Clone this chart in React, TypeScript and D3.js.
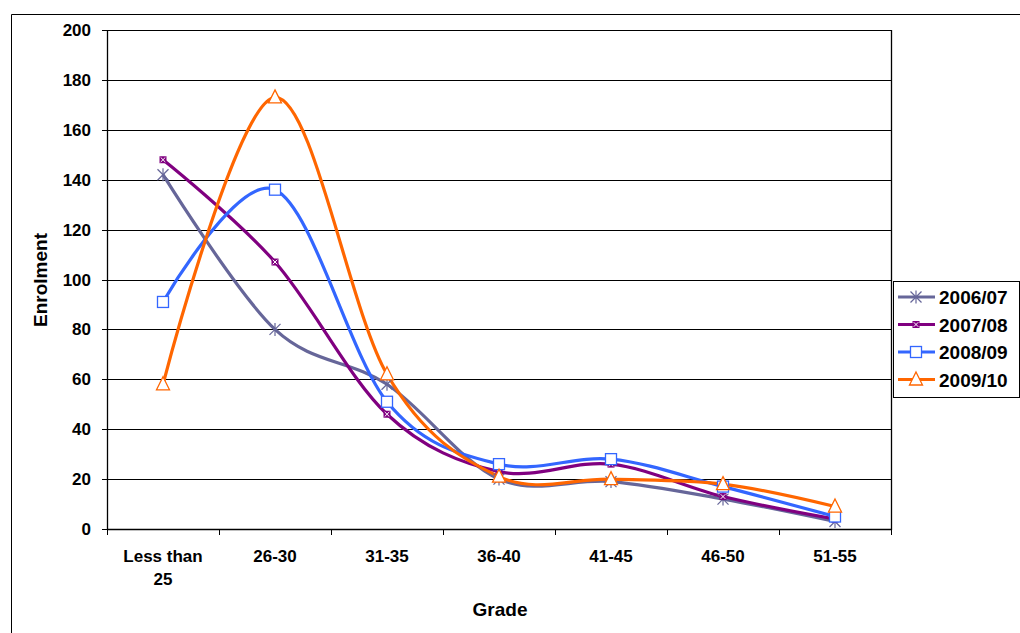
import React from "react";
import * as d3 from "d3";

const categories = ["Less than 25", "26-30", "31-35", "36-40", "41-45", "46-50", "51-55"];
const seriesNames = ["2006/07", "2007/08", "2008/09", "2009/10"];
const s0607 = [142, 80, 58, 20, 19, 12, 3];
const s0708 = [148, 107, 46, 23, 26, 13, 4];
const s0809 = [91, 136, 51, 26, 28, 17, 5];
const s0910 = [58, 173, 62, 21, 20, 18, 9];
const yTicks = [0, 20, 40, 60, 80, 100, 120, 140, 160, 180, 200];
const colors = ["#666699", "#800080", "#3366FF", "#FF6600"];
const markerKinds = ["star", "xsquare", "square", "triangle"];

const W = 1020;
const H = 633;
const plot = { left: 107, right: 891, top: 30, bottom: 529 };
const FONT = "'Liberation Sans', Arial, sans-serif";

function Marker({ kind, x, y, color }: { kind: string; x: number; y: number; color: string }) {
  if (kind === "star") {
    const r = 5.5;
    return (
      <g stroke={color} strokeWidth={1.2} fill="none">
        <line x1={x - r} y1={y - r} x2={x + r} y2={y + r} />
        <line x1={x - r} y1={y + r} x2={x + r} y2={y - r} />
        <line x1={x} y1={y - r - 1} x2={x} y2={y + r + 1} />
      </g>
    );
  }
  if (kind === "xsquare") {
    const r = 3.5;
    return (
      <g>
        <rect x={x - r} y={y - r} width={2 * r} height={2 * r} fill={color} />
        <line x1={x - 2.3} y1={y - 2.3} x2={x + 2.3} y2={y + 2.3} stroke="#fff" strokeWidth={1} />
        <line x1={x - 2.3} y1={y + 2.3} x2={x + 2.3} y2={y - 2.3} stroke="#fff" strokeWidth={1} />
      </g>
    );
  }
  if (kind === "square") {
    const r = 5.5;
    return <rect x={x - r} y={y - r} width={2 * r} height={2 * r} fill="#fff" stroke={color} strokeWidth={1.3} />;
  }
  const r = 6.5;
  return (
    <path
      d={`M${x},${y - r - 1}L${x + r},${y + r - 1}L${x - r},${y + r - 1}Z`}
      fill="#fff"
      stroke={color}
      strokeWidth={1.3}
    />
  );
}

export default function App() {
  const series = [s0607, s0708, s0809, s0910];
  const x = d3.scaleBand<string>().domain(categories).range([plot.left, plot.right]);
  const y = d3.scaleLinear().domain([0, 200]).range([plot.bottom, plot.top]);
  const cx = (c: string) => (x(c) as number) + x.bandwidth() / 2;
  const line = d3
    .line<number>()
    .x((_, i) => cx(categories[i]))
    .y((d) => y(d))
    .curve(d3.curveCatmullRom.alpha(0));

  const tickXs = categories.map((c) => x(c) as number).concat([plot.right]);

  const legend = { x: 893, y: 281, w: 126, h: 116 };
  const rowY = (i: number) => legend.y + 16 + i * 27.5;

  return (
    <svg
      width={W}
      height={H}
      style={{ position: "absolute", left: 0, top: 0, display: "block", background: "#fff" }}
      fontFamily={FONT}
    >
      <rect x={0} y={0} width={W} height={H} fill="#fff" />
      {/* outer chart frame */}
      <path d={`M11.5,${H}V14.5H${W}`} fill="none" stroke="#000" strokeWidth={1} />

      {/* horizontal gridlines */}
      {yTicks.map((t) => (
        <line key={t} x1={plot.left - 5} x2={plot.right} y1={Math.round(y(t)) + 0.5} y2={Math.round(y(t)) + 0.5} stroke="#000" strokeWidth={1} />
      ))}
      {/* plot edges */}
      <line x1={plot.left + 0.5} x2={plot.left + 0.5} y1={plot.top} y2={plot.bottom + 1} stroke="#000" strokeWidth={1.3} />
      <line x1={plot.right + 0.5} x2={plot.right + 0.5} y1={plot.top} y2={plot.bottom + 1} stroke="#000" strokeWidth={1.3} />
      <line x1={plot.left} x2={plot.right} y1={plot.bottom + 0.5} y2={plot.bottom + 0.5} stroke="#000" strokeWidth={1.5} />
      {tickXs.map((tx, i) => (
        <line key={i} x1={Math.round(tx) + 0.5} x2={Math.round(tx) + 0.5} y1={plot.bottom} y2={plot.bottom + 6} stroke="#000" strokeWidth={1} />
      ))}

      {/* y tick labels */}
      {yTicks.map((t) => (
        <text key={t} x={91} y={y(t) + 6} textAnchor="end" fontSize={17} fontWeight="bold" fill="#000">
          {t}
        </text>
      ))}

      {/* x tick labels */}
      {categories.map((c) => {
        const parts = c === "Less than 25" ? ["Less than", "25"] : [c];
        return (
          <text key={c} x={cx(c)} y={562} textAnchor="middle" fontSize={17} fontWeight="bold" fill="#000">
            {parts.map((p, i) => (
              <tspan key={i} x={cx(c)} dy={i === 0 ? 0 : 23}>
                {p}
              </tspan>
            ))}
          </text>
        );
      })}

      {/* axis titles */}
      <text x={500} y={616} textAnchor="middle" fontSize={19} fontWeight="bold" fill="#000">
        Grade
      </text>
      <text transform="translate(47,280) rotate(-90)" textAnchor="middle" fontSize={19} fontWeight="bold" fill="#000">
        Enrolment
      </text>

      {/* series lines */}
      {series.map((s, si) => (
        <path key={si} d={line(s) || ""} fill="none" stroke={colors[si]} strokeWidth={3.2} strokeLinejoin="round" />
      ))}
      {/* series markers */}
      {series.map((s, si) => (
        <g key={si}>
          {s.map((v, i) => (
            <Marker key={i} kind={markerKinds[si]} x={cx(categories[i])} y={y(v)} color={colors[si]} />
          ))}
        </g>
      ))}

      {/* legend */}
      <rect x={legend.x + 0.5} y={legend.y + 0.5} width={legend.w} height={legend.h} fill="#fff" stroke="#000" strokeWidth={1} />
      {seriesNames.map((n, i) => (
        <g key={n}>
          <line x1={898} x2={935} y1={rowY(i)} y2={rowY(i)} stroke={colors[i]} strokeWidth={3.2} />
          <Marker kind={markerKinds[i]} x={916} y={rowY(i)} color={colors[i]} />
          <text x={939} y={rowY(i) + 7} fontSize={19} fontWeight="bold" fill="#000">
            {n}
          </text>
        </g>
      ))}
    </svg>
  );
}
